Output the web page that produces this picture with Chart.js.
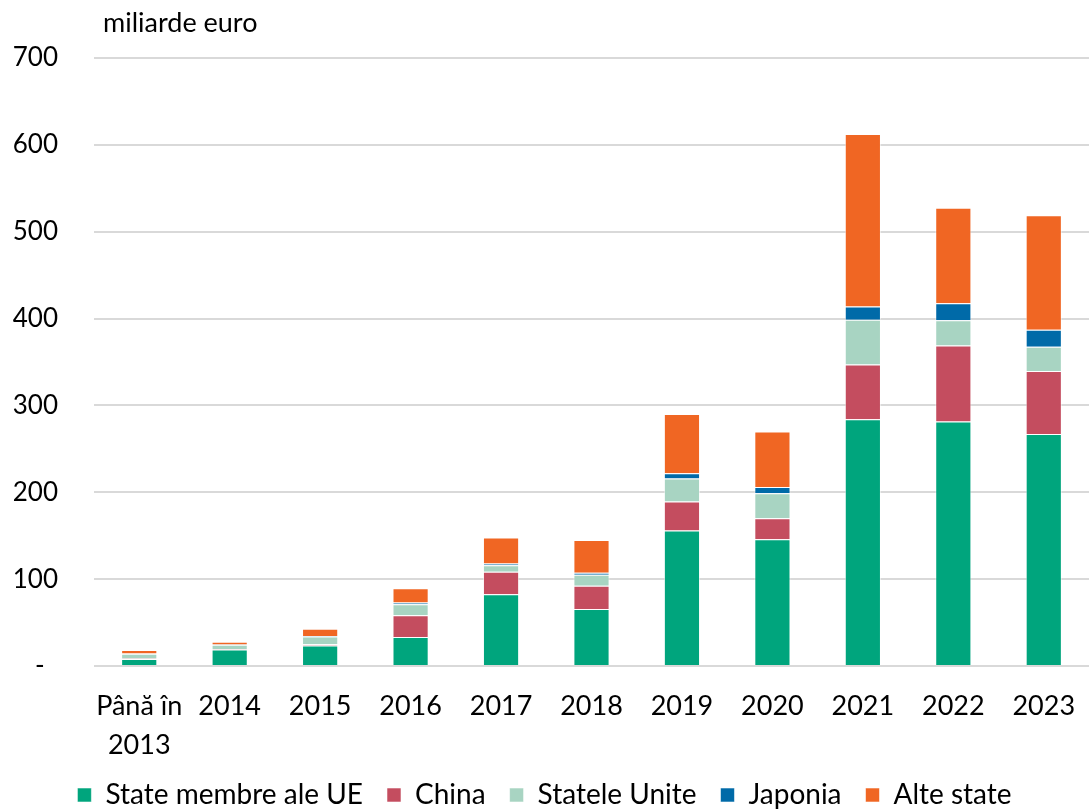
<!DOCTYPE html>
<html>
<head>
<meta charset="utf-8">
<script src="https://cdn.jsdelivr.net/npm/chart.js@4.4.1/dist/chart.umd.min.js"></script>
<style>
  html, body { margin: 0; padding: 0; background: #fff; }
  #wrap { width: 1089px; height: 811px; position: relative; }
</style>
</head>
<body>
<div id="wrap"><canvas id="chart"></canvas></div>
<script>
const categories = [["Până în", "2013"], "2014", "2015", "2016", "2017", "2018", "2019", "2020", "2021", "2022", "2023"];
const seriesNames = ["State membre ale UE", "China", "Statele Unite", "Japonia", "Alte state"];
const euValues = [8, 19, 23.5, 33.5, 82.5, 65.5, 156, 146, 284, 281.5, 267];
const chinaValues = [0.5, 0.5, 1.5, 25, 26, 27, 33.5, 24, 63, 87.5, 72.5];
const usValues = [5.5, 5, 9, 12.5, 7.5, 12.5, 26.5, 29, 51.5, 29, 28];
const japanValues = [0.3, 0.3, 0.5, 2, 2, 2.5, 6, 7, 15.5, 19.5, 19.5];
const otherValues = [4, 3, 8.5, 16.5, 30, 37.5, 68, 64, 198.5, 110, 132];
const yTicks = [0, 100, 200, 300, 400, 500, 600, 700];
const unitLabel = "miliarde euro";

const colors = ["#00A57D", "#C44D5F", "#A8D4C2", "#006AA8", "#F06623"];
const allValues = [euValues, chinaValues, usValues, japanValues, otherValues];

const FONT = "Lato, 'Open Sans', sans-serif";

// unit label above the axis
const unitPlugin = {
  id: "unitLabel",
  afterDraw(chart) {
    const ctx = chart.ctx;
    ctx.save();
    ctx.font = "27px " + FONT;
    ctx.fillStyle = "#000";
    ctx.textBaseline = "middle";
    ctx.textAlign = "left";
    ctx.fillText(unitLabel, 103, 23);
    ctx.restore();
  }
};

const ctx = document.getElementById("chart");
new Chart(ctx, {
  type: "bar",
  data: {
    labels: categories,
    datasets: seriesNames.map((name, i) => ({
      label: name,
      data: allValues[i],
      backgroundColor: colors[i],
      borderColor: "rgba(255,255,255,0.55)",
      borderWidth: 1,
      categoryPercentage: 1,
      barPercentage: 0.4,
    })),
  },
  options: {
    responsive: true,
    maintainAspectRatio: false,
    animation: false,
    layout: { padding: { top: 58, right: 0, bottom: -8, left: 0 } },
    plugins: {
      tooltip: { enabled: false },
      legend: {
        position: "bottom",
        labels: {
          font: { family: FONT, size: 28 },
          color: "#000",
          boxWidth: 14,
          boxHeight: 14,
          padding: 24,
        },
      },
    },
    scales: {
      x: {
        stacked: true,
        grid: { display: false },
        border: { display: false },
        ticks: {
          font: { family: FONT, size: 27, lineHeight: 1.45 },
          color: "#000",
          maxRotation: 0,
          padding: 13,
        },
        afterFit(scale) { scale.height = 91; },
      },
      y: {
        stacked: true,
        min: 0,
        max: 700,
        afterBuildTicks(scale) { scale.ticks = yTicks.map(v => ({ value: v })); },
        grid: { color: "#D9D9D9", lineWidth: 2, drawTicks: false },
        border: { display: false },
        ticks: {
          font: { family: FONT, size: 26 },
          color: "#000",
          padding: 36,
          callback: v => (v === 0 ? "-  " : String(v)),
        },
        afterFit(scale) { scale.width = 94; },
      },
    },
  },
  plugins: [unitPlugin],
});
</script>
</body>
</html>
